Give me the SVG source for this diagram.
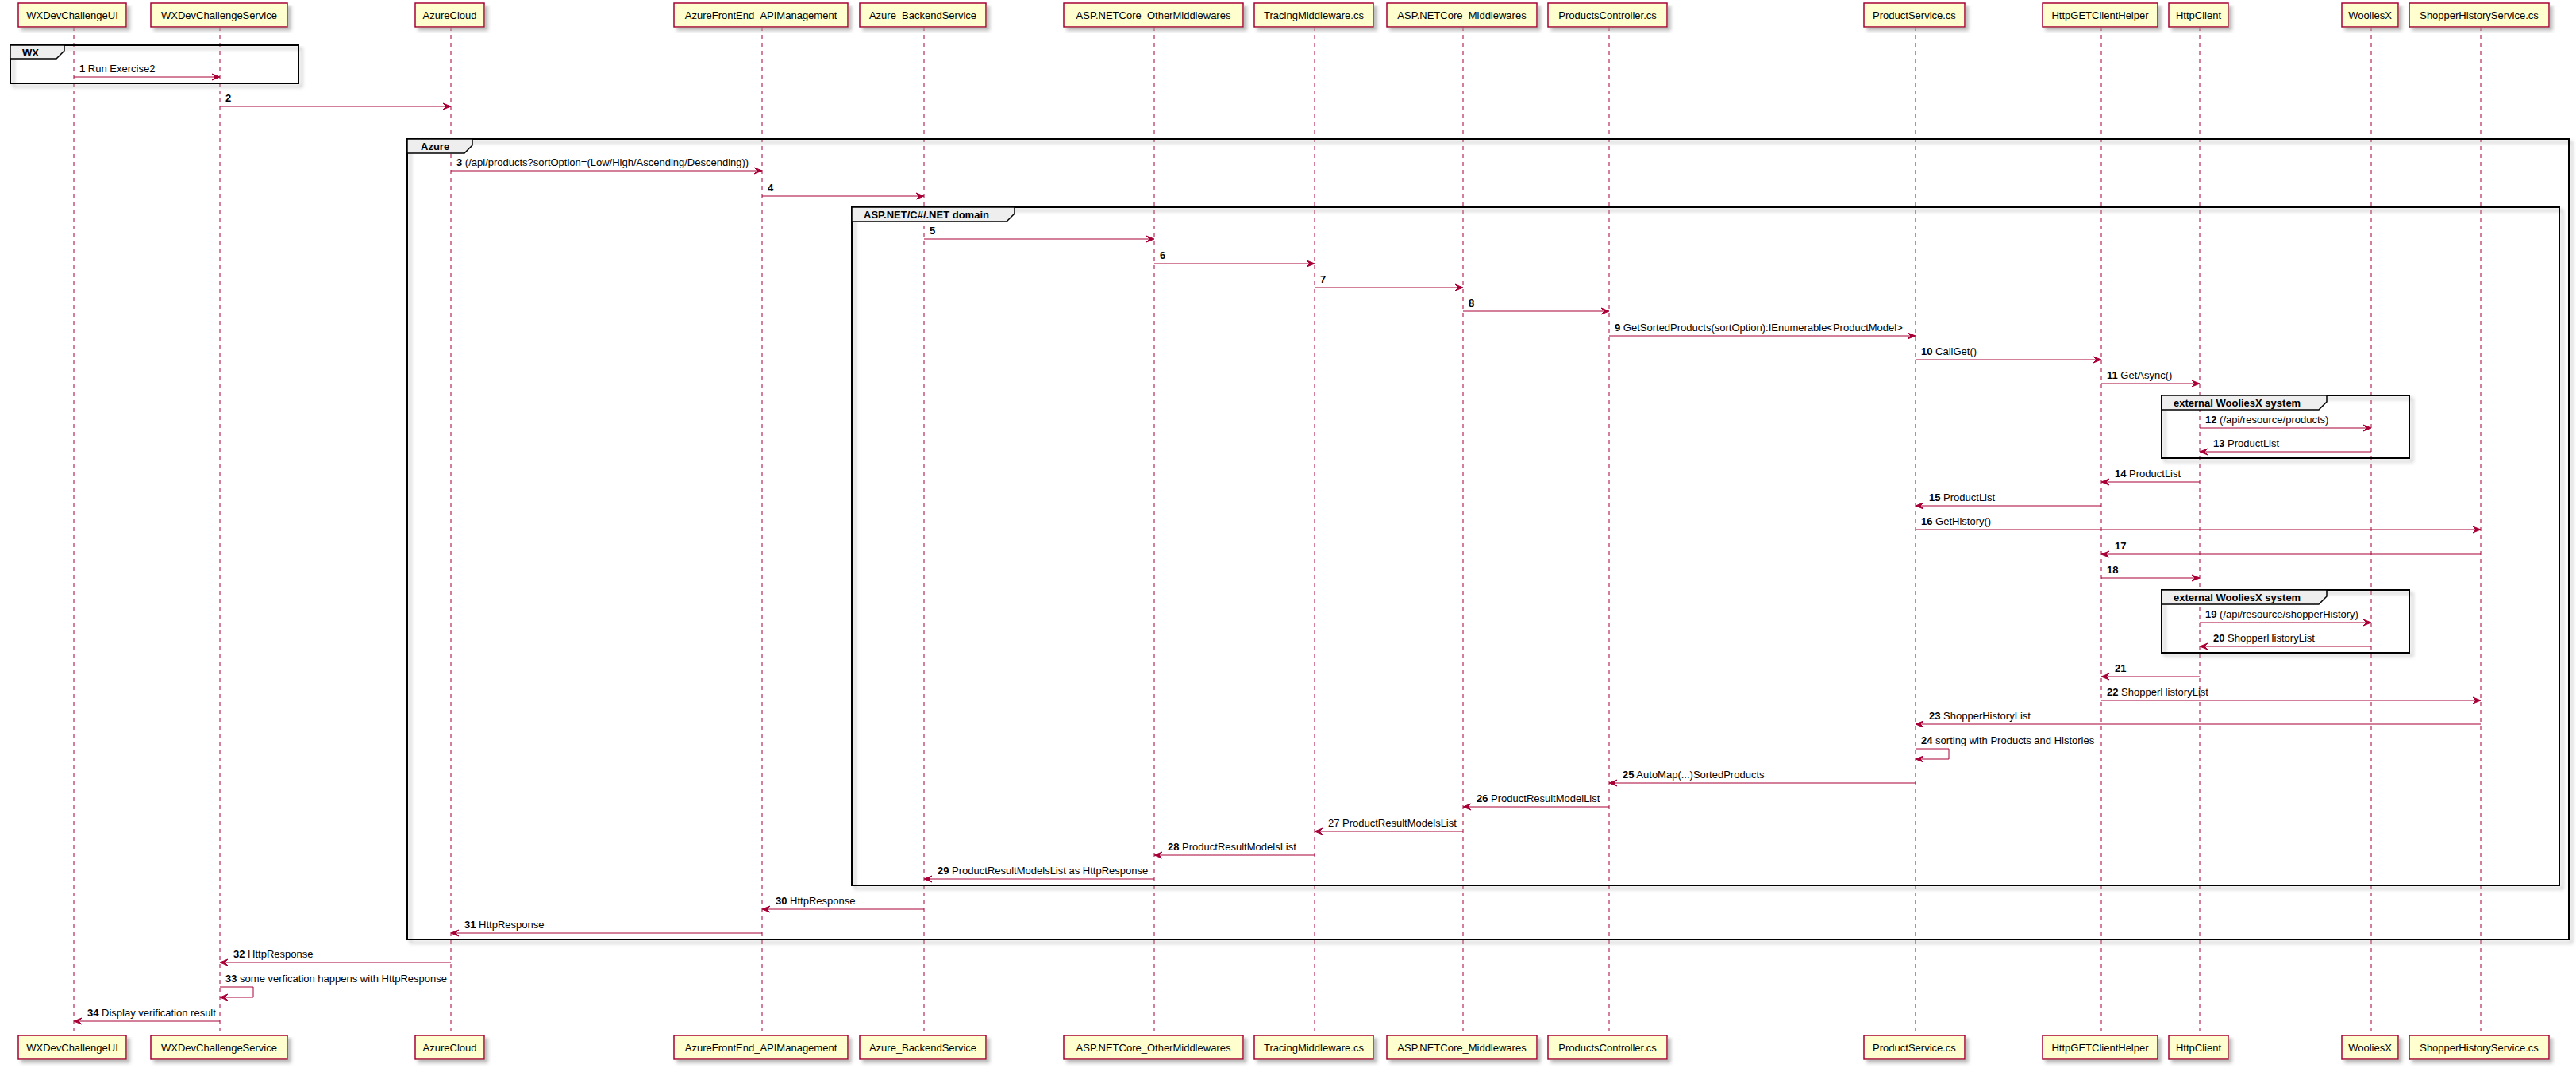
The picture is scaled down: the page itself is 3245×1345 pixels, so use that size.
<svg xmlns="http://www.w3.org/2000/svg" width="3245" height="1345" viewBox="0 0 3245 1345">
<style>
text{font-family:"Liberation Sans",Arial,sans-serif;font-size:13px;fill:#000}
.p{fill:#FEFECE;stroke:#A80036;stroke-width:1.5}
.pt{text-anchor:middle}
.ll{stroke:#A80036;stroke-width:1;stroke-dasharray:5,5;fill:none}
.m{stroke:#A80036;stroke-width:1;fill:none}
.ah{fill:#A80036;stroke:#A80036;stroke-width:1}
.g{fill:none;stroke:#000;stroke-width:2}
.gt{fill:#EEEEEE;stroke:#000;stroke-width:1.5}
.b{font-weight:bold}
</style>
<defs>
<filter id="sh" x="-5%" y="-5%" width="115%" height="130%">
<feGaussianBlur in="SourceAlpha" stdDeviation="2" result="bl"/>
<feOffset in="bl" dx="4" dy="4" result="of"/>
<feColorMatrix in="of" type="matrix" values="0 0 0 0 0.35  0 0 0 0 0.35  0 0 0 0 0.35  0 0 0 0.7 0" result="c"/>
<feMerge><feMergeNode in="c"/><feMergeNode in="SourceGraphic"/></feMerge>
</filter>
</defs>
<rect width="3245" height="1345" fill="#fff"/>

<g id="lifelines">
<line class="ll" x1="93" y1="34" x2="93" y2="1303"/>
<line class="ll" x1="277" y1="34" x2="277" y2="1303"/>
<line class="ll" x1="568" y1="34" x2="568" y2="1303"/>
<line class="ll" x1="960" y1="34" x2="960" y2="1303"/>
<line class="ll" x1="1164" y1="34" x2="1164" y2="1303"/>
<line class="ll" x1="1454" y1="34" x2="1454" y2="1303"/>
<line class="ll" x1="1656" y1="34" x2="1656" y2="1303"/>
<line class="ll" x1="1843" y1="34" x2="1843" y2="1303"/>
<line class="ll" x1="2027" y1="34" x2="2027" y2="1303"/>
<line class="ll" x1="2413" y1="34" x2="2413" y2="1303"/>
<line class="ll" x1="2647" y1="34" x2="2647" y2="1303"/>
<line class="ll" x1="2771" y1="34" x2="2771" y2="1303"/>
<line class="ll" x1="2987" y1="34" x2="2987" y2="1303"/>
<line class="ll" x1="3125" y1="34" x2="3125" y2="1303"/>
</g>

<g id="p1"><rect class="p" filter="url(#sh)" x="23" y="4" width="136" height="30"/><text class="pt" x="91" y="24">WXDevChallengeUI</text><rect class="p" filter="url(#sh)" x="23" y="1304" width="136" height="30"/><text class="pt" x="91" y="1324">WXDevChallengeUI</text></g>
<g id="p2"><rect class="p" filter="url(#sh)" x="190" y="4" width="172" height="30"/><text class="pt" x="276" y="24">WXDevChallengeService</text><rect class="p" filter="url(#sh)" x="190" y="1304" width="172" height="30"/><text class="pt" x="276" y="1324">WXDevChallengeService</text></g>
<g id="p3"><rect class="p" filter="url(#sh)" x="523" y="4" width="87" height="30"/><text class="pt" x="566.5" y="24">AzureCloud</text><rect class="p" filter="url(#sh)" x="523" y="1304" width="87" height="30"/><text class="pt" x="566.5" y="1324">AzureCloud</text></g>
<g id="p4"><rect class="p" filter="url(#sh)" x="849" y="4" width="219" height="30"/><text class="pt" x="958.5" y="24">AzureFrontEnd_APIManagement</text><rect class="p" filter="url(#sh)" x="849" y="1304" width="219" height="30"/><text class="pt" x="958.5" y="1324">AzureFrontEnd_APIManagement</text></g>
<g id="p5"><rect class="p" filter="url(#sh)" x="1083" y="4" width="159" height="30"/><text class="pt" x="1162.5" y="24">Azure_BackendService</text><rect class="p" filter="url(#sh)" x="1083" y="1304" width="159" height="30"/><text class="pt" x="1162.5" y="1324">Azure_BackendService</text></g>
<g id="p6"><rect class="p" filter="url(#sh)" x="1340" y="4" width="226" height="30"/><text class="pt" x="1453" y="24">ASP.NETCore_OtherMiddlewares</text><rect class="p" filter="url(#sh)" x="1340" y="1304" width="226" height="30"/><text class="pt" x="1453" y="1324">ASP.NETCore_OtherMiddlewares</text></g>
<g id="p7"><rect class="p" filter="url(#sh)" x="1580" y="4" width="150" height="30"/><text class="pt" x="1655" y="24">TracingMiddleware.cs</text><rect class="p" filter="url(#sh)" x="1580" y="1304" width="150" height="30"/><text class="pt" x="1655" y="1324">TracingMiddleware.cs</text></g>
<g id="p8"><rect class="p" filter="url(#sh)" x="1747" y="4" width="189" height="30"/><text class="pt" x="1841.5" y="24">ASP.NETCore_Middlewares</text><rect class="p" filter="url(#sh)" x="1747" y="1304" width="189" height="30"/><text class="pt" x="1841.5" y="1324">ASP.NETCore_Middlewares</text></g>
<g id="p9"><rect class="p" filter="url(#sh)" x="1950" y="4" width="150" height="30"/><text class="pt" x="2025" y="24">ProductsController.cs</text><rect class="p" filter="url(#sh)" x="1950" y="1304" width="150" height="30"/><text class="pt" x="2025" y="1324">ProductsController.cs</text></g>
<g id="p10"><rect class="p" filter="url(#sh)" x="2348" y="4" width="127" height="30"/><text class="pt" x="2411.5" y="24">ProductService.cs</text><rect class="p" filter="url(#sh)" x="2348" y="1304" width="127" height="30"/><text class="pt" x="2411.5" y="1324">ProductService.cs</text></g>
<g id="p11"><rect class="p" filter="url(#sh)" x="2573" y="4" width="145" height="30"/><text class="pt" x="2645.5" y="24">HttpGETClientHelper</text><rect class="p" filter="url(#sh)" x="2573" y="1304" width="145" height="30"/><text class="pt" x="2645.5" y="1324">HttpGETClientHelper</text></g>
<g id="p12"><rect class="p" filter="url(#sh)" x="2732" y="4" width="75" height="30"/><text class="pt" x="2769.5" y="24">HttpClient</text><rect class="p" filter="url(#sh)" x="2732" y="1304" width="75" height="30"/><text class="pt" x="2769.5" y="1324">HttpClient</text></g>
<g id="p13"><rect class="p" filter="url(#sh)" x="2950" y="4" width="71" height="30"/><text class="pt" x="2985.5" y="24">WooliesX</text><rect class="p" filter="url(#sh)" x="2950" y="1304" width="71" height="30"/><text class="pt" x="2985.5" y="1324">WooliesX</text></g>
<g id="p14"><rect class="p" filter="url(#sh)" x="3035" y="4" width="176" height="30"/><text class="pt" x="3123" y="24">ShopperHistoryService.cs</text><rect class="p" filter="url(#sh)" x="3035" y="1304" width="176" height="30"/><text class="pt" x="3123" y="1324">ShopperHistoryService.cs</text></g>

<g id="groups">
<g id="grp-wx"><rect class="g" filter="url(#sh)" x="13" y="57" width="363" height="48"/><path class="gt" d="M13,57 L81,57 L81,64 L71,74 L13,74 Z"/><text class="b" x="28" y="71">WX</text></g>
<g id="grp-azure"><rect class="g" filter="url(#sh)" x="513" y="175" width="2723" height="1008"/><path class="gt" d="M513,175 L595,175 L595,183 L585,193 L513,193 Z"/><text class="b" x="530" y="189">Azure</text></g>
<g id="grp-asp"><rect class="g" filter="url(#sh)" x="1073" y="261" width="2151" height="854"/><path class="gt" d="M1073,261 L1278,261 L1278,269 L1268,279 L1073,279 Z"/><text class="b" x="1088" y="275">ASP.NET/C#/.NET domain</text></g>
<g id="grp-ext1"><rect class="g" filter="url(#sh)" x="2723" y="498" width="312" height="79"/><path class="gt" d="M2723,498 L2931,498 L2931,506 L2921,516 L2723,516 Z"/><text class="b" x="2738" y="512">external WooliesX system</text></g>
<g id="grp-ext2"><rect class="g" filter="url(#sh)" x="2723" y="743" width="312" height="79"/><path class="gt" d="M2723,743 L2931,743 L2931,751 L2921,761 L2723,761 Z"/><text class="b" x="2738" y="757">external WooliesX system</text></g>
</g>

<g id="connectors">
<!-- right arrows: line + head -->
<line class="m" x1="93" y1="97" x2="276" y2="97"/><polygon class="ah" points="267,93 277,97 267,101 271,97"/>
<text x="100" y="91"><tspan class="b">1</tspan> Run Exercise2</text>
<line class="m" x1="277" y1="134" x2="567" y2="134"/><polygon class="ah" points="558,130 568,134 558,138 562,134"/>
<text x="284" y="128"><tspan class="b">2</tspan></text>
<line class="m" x1="568" y1="215" x2="959" y2="215"/><polygon class="ah" points="950,211 960,215 950,219 954,215"/>
<text x="575" y="209"><tspan class="b">3</tspan> (/api/products?sortOption=(Low/High/Ascending/Descending))</text>
<line class="m" x1="960" y1="247" x2="1163" y2="247"/><polygon class="ah" points="1154,243 1164,247 1154,251 1158,247"/>
<text x="967" y="241"><tspan class="b">4</tspan></text>
<line class="m" x1="1164" y1="301" x2="1453" y2="301"/><polygon class="ah" points="1444,297 1454,301 1444,305 1448,301"/>
<text x="1171" y="295"><tspan class="b">5</tspan></text>
<line class="m" x1="1454" y1="332" x2="1655" y2="332"/><polygon class="ah" points="1646,328 1656,332 1646,336 1650,332"/>
<text x="1461" y="326"><tspan class="b">6</tspan></text>
<line class="m" x1="1656" y1="362" x2="1842" y2="362"/><polygon class="ah" points="1833,358 1843,362 1833,366 1837,362"/>
<text x="1663" y="356"><tspan class="b">7</tspan></text>
<line class="m" x1="1843" y1="392" x2="2026" y2="392"/><polygon class="ah" points="2017,388 2027,392 2017,396 2021,392"/>
<text x="1850" y="386"><tspan class="b">8</tspan></text>
<line class="m" x1="2027" y1="423" x2="2412" y2="423"/><polygon class="ah" points="2403,419 2413,423 2403,427 2407,423"/>
<text x="2034" y="417"><tspan class="b">9</tspan> GetSortedProducts(sortOption):IEnumerable&lt;ProductModel&gt;</text>
<line class="m" x1="2413" y1="453" x2="2646" y2="453"/><polygon class="ah" points="2637,449 2647,453 2637,457 2641,453"/>
<text x="2420" y="447"><tspan class="b">10</tspan> CallGet()</text>
<line class="m" x1="2647" y1="483" x2="2770" y2="483"/><polygon class="ah" points="2761,479 2771,483 2761,487 2765,483"/>
<text x="2654" y="477"><tspan class="b">11</tspan> GetAsync()</text>
<line class="m" x1="2771" y1="539" x2="2986" y2="539"/><polygon class="ah" points="2977,535 2987,539 2977,543 2981,539"/>
<text x="2778" y="533"><tspan class="b">12</tspan> (/api/resource/products)</text>
<line class="m" x1="2772" y1="569" x2="2987" y2="569"/><polygon class="ah" points="2781,565 2771,569 2781,573 2777,569"/>
<text x="2788" y="563"><tspan class="b">13</tspan> ProductList</text>
<line class="m" x1="2648" y1="607" x2="2771" y2="607"/><polygon class="ah" points="2657,603 2647,607 2657,611 2653,607"/>
<text x="2664" y="601"><tspan class="b">14</tspan> ProductList</text>
<line class="m" x1="2414" y1="637" x2="2647" y2="637"/><polygon class="ah" points="2423,633 2413,637 2423,641 2419,637"/>
<text x="2430" y="631"><tspan class="b">15</tspan> ProductList</text>
<line class="m" x1="2413" y1="667" x2="3124" y2="667"/><polygon class="ah" points="3115,663 3125,667 3115,671 3119,667"/>
<text x="2420" y="661"><tspan class="b">16</tspan> GetHistory()</text>
<line class="m" x1="2648" y1="698" x2="3125" y2="698"/><polygon class="ah" points="2657,694 2647,698 2657,702 2653,698"/>
<text x="2664" y="692"><tspan class="b">17</tspan></text>
<line class="m" x1="2647" y1="728" x2="2770" y2="728"/><polygon class="ah" points="2761,724 2771,728 2761,732 2765,728"/>
<text x="2654" y="722"><tspan class="b">18</tspan></text>
<line class="m" x1="2771" y1="784" x2="2986" y2="784"/><polygon class="ah" points="2977,780 2987,784 2977,788 2981,784"/>
<text x="2778" y="778"><tspan class="b">19</tspan> (/api/resource/shopperHistory)</text>
<line class="m" x1="2772" y1="814" x2="2987" y2="814"/><polygon class="ah" points="2781,810 2771,814 2781,818 2777,814"/>
<text x="2788" y="808"><tspan class="b">20</tspan> ShopperHistoryList</text>
<line class="m" x1="2648" y1="852" x2="2771" y2="852"/><polygon class="ah" points="2657,848 2647,852 2657,856 2653,852"/>
<text x="2664" y="846"><tspan class="b">21</tspan></text>
<line class="m" x1="2647" y1="882" x2="3124" y2="882"/><polygon class="ah" points="3115,878 3125,882 3115,886 3119,882"/>
<text x="2654" y="876"><tspan class="b">22</tspan> ShopperHistoryList</text>
<line class="m" x1="2414" y1="912" x2="3125" y2="912"/><polygon class="ah" points="2423,908 2413,912 2423,916 2419,912"/>
<text x="2430" y="906"><tspan class="b">23</tspan> ShopperHistoryList</text>
<polyline class="m" points="2413,943 2455,943 2455,956 2414,956"/><polygon class="ah" points="2423,952 2413,956 2423,960 2419,956"/>
<text x="2420" y="937"><tspan class="b">24</tspan> sorting with Products and Histories</text>
<line class="m" x1="2028" y1="986" x2="2413" y2="986"/><polygon class="ah" points="2037,982 2027,986 2037,990 2033,986"/>
<text x="2044" y="980"><tspan class="b">25</tspan> AutoMap(...)SortedProducts</text>
<line class="m" x1="1844" y1="1016" x2="2027" y2="1016"/><polygon class="ah" points="1853,1012 1843,1016 1853,1020 1849,1016"/>
<text x="1860" y="1010"><tspan class="b">26</tspan> ProductResultModelList</text>
<line class="m" x1="1657" y1="1047" x2="1843" y2="1047"/><polygon class="ah" points="1666,1043 1656,1047 1666,1051 1662,1047"/>
<text x="1673" y="1041">27 ProductResultModelsList</text>
<line class="m" x1="1455" y1="1077" x2="1656" y2="1077"/><polygon class="ah" points="1464,1073 1454,1077 1464,1081 1460,1077"/>
<text x="1471" y="1071"><tspan class="b">28</tspan> ProductResultModelsList</text>
<line class="m" x1="1165" y1="1107" x2="1454" y2="1107"/><polygon class="ah" points="1174,1103 1164,1107 1174,1111 1170,1107"/>
<text x="1181" y="1101"><tspan class="b">29</tspan> ProductResultModelsList as HttpResponse</text>
<line class="m" x1="961" y1="1145" x2="1164" y2="1145"/><polygon class="ah" points="970,1141 960,1145 970,1149 966,1145"/>
<text x="977" y="1139"><tspan class="b">30</tspan> HttpResponse</text>
<line class="m" x1="569" y1="1175" x2="960" y2="1175"/><polygon class="ah" points="578,1171 568,1175 578,1179 574,1175"/>
<text x="585" y="1169"><tspan class="b">31</tspan> HttpResponse</text>
<line class="m" x1="278" y1="1212" x2="568" y2="1212"/><polygon class="ah" points="287,1208 277,1212 287,1216 283,1212"/>
<text x="294" y="1206"><tspan class="b">32</tspan> HttpResponse</text>
<polyline class="m" points="277,1243 319,1243 319,1256 278,1256"/><polygon class="ah" points="287,1252 277,1256 287,1260 283,1256"/>
<text x="284" y="1237"><tspan class="b">33</tspan> some verfication happens with HttpResponse</text>
<line class="m" x1="94" y1="1286" x2="277" y2="1286"/><polygon class="ah" points="103,1282 93,1286 103,1290 99,1286"/>
<text x="110" y="1280"><tspan class="b">34</tspan> Display verification result</text>
</g>
</svg>
